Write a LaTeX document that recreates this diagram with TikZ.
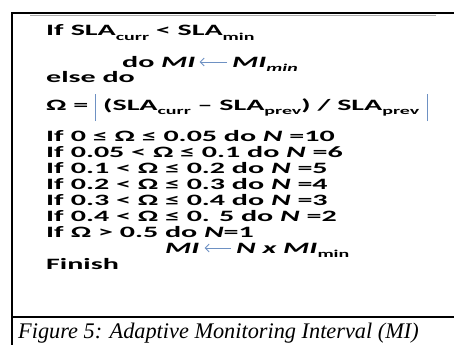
\documentclass[tikz,border=0pt]{standalone}
\usepackage{fontspec}
\setmainfont{Liberation Serif}
\newfontfamily\algfont[FakeStretch=1.9]{Carlito}
\usetikzlibrary{arrows.meta}
\definecolor{arrowblue}{RGB}{110,145,195}
\definecolor{rulegray}{RGB}{170,170,170}
% lowered, reduced index such as SLA_curr
\newcommand\lo[1]{\raisebox{-0.28em}{\fontsize{10.5}{10.5}\selectfont #1}}
\tikzset{
  alg/.style={anchor=base west, inner sep=0pt,
    font=\algfont\bfseries\fontsize{15.8}{16}\selectfont},
  assign/.style={draw=arrowblue, line width=0.8pt,
    -{Straight Barb[length=4pt,width=8pt]}},
  absbar/.style={draw=arrowblue, line width=1pt},
  frameline/.style={line width=1.6pt, black},
  captext/.style={anchor=base west, inner sep=0pt,
    font=\itshape\fontsize{22.3}{22}\selectfont},
}
\begin{document}
\begin{tikzpicture}[x=1pt,y=-1pt]
\useasboundingbox (0,0) rectangle (454,345);
\fill[white] (0,0) rectangle (454,345);
% frame around the algorithm and the caption separator
\coordinate (tl) at (12,13);
\coordinate (tr) at (454,13);
\coordinate (bl) at (12,345);
\coordinate (sl) at (12,317);
\coordinate (sr) at (454,317);
\coordinate (gl) at (30,15.5);
\coordinate (gr) at (436,15.5);
\draw[rulegray, line width=1pt] (gl) -- (gr);
\draw[frameline] (tr) -- (tl) -- (bl);
\draw[frameline] (sl) -- (sr);

% algorithm text
\node[alg] (l1) at (46,36) {If\hspace{0.45em}SLA\lo{curr} < SLA\lo{min}};
\node[alg] (l2a) at (122,67) {do \textit{MI}};
\node[alg] (l2b) at (232,67) {\textit{MI\lo{min}}};
\draw[assign] ([shift={(-5,-5)}]l2b.base west) -- ([shift={(4,-5)}]l2a.base east);
\node[alg] (l3) at (46,82) {else do};
\node[alg] (om) at (46,110) {Ω =};
\node[alg] (fr) at (103,110) {(SLA\lo{curr} – SLA\lo{prev}) / SLA\lo{prev}};
\draw[absbar] ([shift={(-8,11)}]fr.base west) -- ([shift={(-8,-16)}]fr.base west);
\draw[absbar] ([shift={(8,11)}]fr.base east) -- ([shift={(8,-16)}]fr.base east);

\node[alg] (r1) at (46,141) {If\hspace{0.45em}0 ≤ Ω ≤ 0.05 do \textit{N} =10};
\node[alg] (r2) at (46,157) {If\hspace{0.45em}0.05 < Ω ≤ 0.1 do \textit{N} =6};
\node[alg] (r3) at (46,173) {If\hspace{0.45em}0.1 < Ω ≤ 0.2 do \textit{N} =5};
\node[alg] (r4) at (46,189) {If\hspace{0.45em}0.2 < Ω ≤ 0.3 do \textit{N} =4};
\node[alg] (r5) at (46,205) {If\hspace{0.45em}0.3 < Ω ≤ 0.4 do \textit{N} =3};
\node[alg] (r6) at (46,221) {If\hspace{0.45em}0.4 < Ω ≤ 0. 5 do \textit{N} =2};
\node[alg] (r7) at (46,237) {If\hspace{0.45em}Ω > 0.5 do \textit{N}=1};

\node[alg] (m1) at (165,253) {\textit{MI}};
\node[alg] (m2) at (236,253) {\textit{N x MI}\lo{min}};
\draw[assign] ([shift={(-5,-5)}]m2.base west) -- ([shift={(5,-5)}]m1.base east);
\node[alg] (fin) at (46,269) {Finish};

% caption
\node[captext] (cap) at (18,338) {Figure 5: Adaptive Monitoring Interval (MI)};
\end{tikzpicture}
\end{document}
